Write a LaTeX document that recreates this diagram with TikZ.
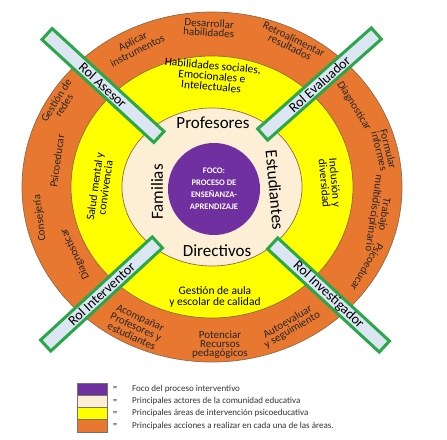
\documentclass[tikz,border=0pt]{standalone}
\usepackage{fontspec}
\setmainfont{Carlito}
\definecolor{foco}{HTML}{7030A0}
\definecolor{actor}{HTML}{FCEFD5}
\definecolor{area}{HTML}{FFFF00}
\definecolor{accion}{HTML}{E8782F}
\definecolor{rolfill}{HTML}{DCE6F2}
\definecolor{rolline}{HTML}{2AA74A}
\definecolor{borde}{HTML}{8C6A4A}
\begin{document}
\begin{tikzpicture}[x=1pt,y=1pt,
    ring/.style={draw=borde,line width=0.7pt},
    actor/.style={font=\fontsize{17}{18}\selectfont},
    area/.style={font=\fontsize{11.5}{10.5}\selectfont,align=center},
    accion/.style={font=\fontsize{11}{9}\selectfont,align=center,text=black!85,inner sep=1pt},
    rol/.style={draw=rolline,fill=rolfill,line width=3pt,minimum width=152pt,
      minimum height=15pt,inner sep=0pt,font=\fontsize{14}{14}\selectfont},
    box/.style={draw=black!55,line width=0.6pt,minimum width=30pt,
      minimum height=12.25pt,inner sep=0pt},
    igual/.style={font=\fontsize{9}{9}\selectfont,text=black!80},
    legend/.style={font=\fontsize{9}{9}\selectfont,text=black!80,anchor=west,inner sep=0pt}]
  \useasboundingbox (-212,-252) rectangle (235,187);
  % anillos
  \draw[ring,fill=accion] (0,0) ellipse [x radius=190, y radius=175];
  \draw[ring,fill=area] (0,0) ellipse [x radius=141, y radius=131];
  \draw[ring,fill=actor] (0,0) ellipse [x radius=90, y radius=79];
  \node[circle,fill=foco,minimum size=92pt,inner sep=0pt,align=center,text=white,
    font=\bfseries\fontsize{8.5}{12}\selectfont] (foco) at (2,-2)
    {FOCO:\\PROCESO DE\\ENSEÑANZA-\\APRENDIZAJE};
  % actores
  \draw
    (1,64) node[actor] (profesores) {Profesores}
    (5,-64) node[actor] (directivos) {Directivos}
    (-55,-5) node[actor,rotate=90] (familias) {Familias}
    (63,-3) node[actor,rotate=-85] (estudiantes) {Estudiantes};
  % areas
  \draw
    (0,111) node[area,rotate=-5] (habilidades) {Habilidades sociales,\\Emocionales e\\Intelectuales}
    (3,-110) node[area] (gestion) {Gestión de aula\\y escolar de calidad}
    (-112,0) node[area,rotate=82] (salud) {Salud mental y\\convivencia}
    (118,4) node[area,rotate=-85] (inclusion) {Inclusión y\\diversidad};
  % acciones
  \draw
    (-77,141) node[accion,rotate=27] (aplicar) {Aplicar\\instrumentos}
    (-3,159) node[accion,rotate=-3] (desarrollar) {Desarrollar\\habilidades}
    (80,144) node[accion,rotate=-26] (retroalimentar) {Retroalimentar\\resultados}
    (-152,84) node[accion,rotate=58] (redes) {Gestión de\\redes}
    (-155,26) node[accion,rotate=82] (psicoeducarA) {Psicoeducar}
    (-172,-31) node[accion,rotate=97] (consejeria) {Consejería}
    (-137,-67) node[accion,rotate=115] (diagnosticarA) {Diagnosticar}
    (142,81) node[accion,rotate=-58] (diagnosticarB) {Diagnosticar}
    (172,37) node[accion,rotate=-76] (informes) {Formular\\informes}
    (167,-27) node[accion,rotate=-98] (trabajo) {Trabajo\\multidisciplinario}
    (155,-80) node[accion,rotate=-121] (psicoeducarB) {Psicoeducar}
    (-76,-140) node[accion,rotate=-25] (acompanar) {Acompañar\\Profesores y\\estudiantes}
    (8,-158) node[accion] (potenciar) {Potenciar\\Recursos\\pedagógicos}
    (78,-139) node[accion,rotate=30] (autoevaluar) {Autoevaluar\\y seguimiento};
  % roles
  \node[rol,rotate=-42.6] (asesor) at (-109,101.5) {Rol Asesor};
  \node[rol,rotate=41.6] (evaluador) at (107.5,103) {Rol Evaluador};
  \node[rol,rotate=42.7] (interventor) at (-110.5,-107) {Rol Interventor};
  \node[rol,rotate=-42.7] (investigador) at (116.5,-108) {Rol Investigador};
  % leyenda
  \draw
    (-120,-202) node[box,fill=foco] (cfoco) {}
    (-97,-202) node[igual] (ifoco) {=}
    (-80,-202) node[legend] (tfoco) {Foco del proceso interventivo}
    (-120,-214.25) node[box,fill=actor] (cactor) {}
    (-97,-214.25) node[igual] (iactor) {=}
    (-80,-214.25) node[legend] (tactor) {Principales actores de la comunidad educativa}
    (-120,-226.5) node[box,fill=area] (carea) {}
    (-97,-226.5) node[igual] (iarea) {=}
    (-80,-226.5) node[legend] (tarea) {Principales áreas de intervención psicoeducativa}
    (-120,-238.75) node[box,fill=accion] (caccion) {}
    (-97,-238.75) node[igual] (iaccion) {=}
    (-80,-238.75) node[legend] (taccion) {Principales acciones a realizar en cada una de las áreas.};
\end{tikzpicture}
\end{document}
